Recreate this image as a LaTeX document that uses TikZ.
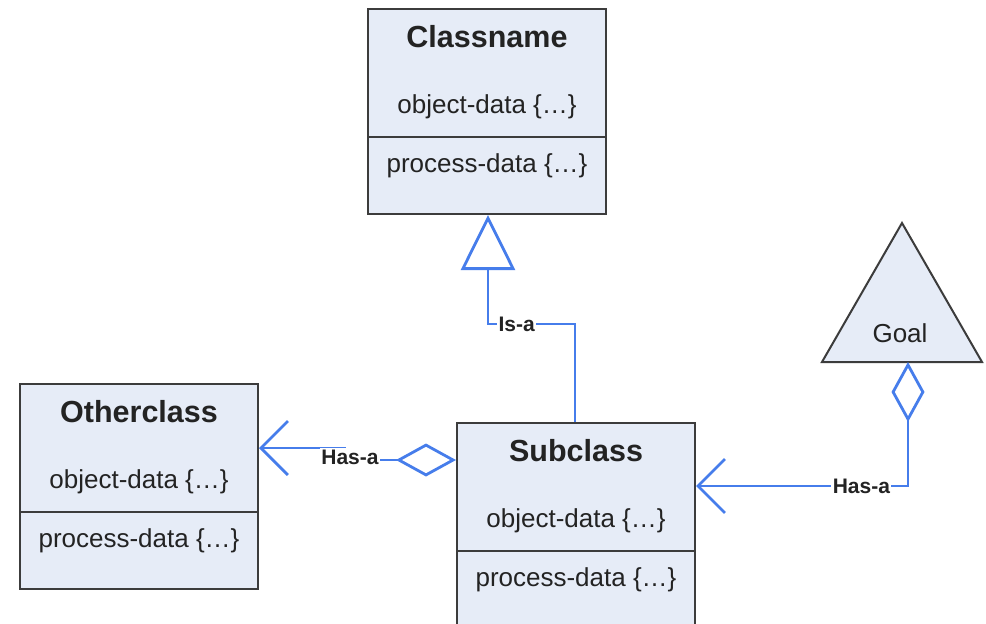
\documentclass[tikz,border=0pt]{standalone}
\usepackage{fontspec}
\setmainfont{Liberation Sans}
\usetikzlibrary{arrows.meta}

\definecolor{boxfill}{RGB}{230,236,247}
\definecolor{boxborder}{RGB}{60,60,60}
\definecolor{linkblue}{RGB}{70,125,235}
\definecolor{inktext}{RGB}{35,35,35}

\tikzset{
  classbox/.style={draw=boxborder, line width=2pt, fill=boxfill, inner sep=0pt,
    minimum width=238pt, minimum height=205pt},
  boxline/.style={draw=boxborder, line width=2pt},
  classtitle/.style={anchor=base, inner sep=0pt, text=inktext,
    font=\fontsize{30.5}{36}\selectfont\bfseries},
  classtext/.style={anchor=base, inner sep=0pt, text=inktext,
    font=\fontsize{26}{30}\selectfont},
  connector/.style={draw=linkblue, line width=2.8pt, line join=miter},
  linklabel/.style={fill=white, inner sep=1.5pt, text=inktext,
    font=\fontsize{21}{25}\selectfont\bfseries},
  hasdiamond/.tip={Diamond[open, length=60pt, width=33pt]},
  hasbarb/.tip={Straight Barb[length=27pt, width=54pt]},
  isatriangle/.tip={Triangle[open, length=55pt, width=54pt]}
}

\begin{document}
\begin{tikzpicture}[x=1pt, y=-1pt]
  \useasboundingbox[fill=white] (0,0) rectangle (986,624);

  % the three class boxes
  \foreach \nm/\cx/\top/\ttl in {classname/487/8/Classname,
      otherclass/139/383/Otherclass, subclass/576/422/Subclass} {
    \node[classbox, anchor=north] (\nm) at (\cx,\top) {};
    \node[classtitle] (\nm-title) at ([yshift=-39pt]\nm.north) {\ttl};
    \node[classtext] (\nm-obj) at ([yshift=-105pt]\nm.north) {object-data \{…\}};
    \draw[boxline] ([yshift=-129pt]\nm.north west) -- ([yshift=-129pt]\nm.north east);
    \node[classtext] (\nm-proc) at ([yshift=-164pt]\nm.north) {process-data \{…\}};
  }

  % goal triangle
  \draw[boxline, fill=boxfill] (902,223) -- (982,362) -- (822,362) -- cycle;
  \node[classtext] (goal) at (900,342) {Goal};
  \coordinate (goal-foot) at (908,362);

  % bends of the links
  \coordinate (goal-bend) at (908,486);
  \coordinate (isa-right) at (575,324);
  \coordinate (isa-left) at (488,324);
  \coordinate (hasa-low) at (345,460);
  \coordinate (hasa-high) at (345,448);

  % is-a
  \draw[connector, -isatriangle] (subclass.north -| isa-right) -- (isa-right)
    -- node[linklabel, pos=0.67] (isa-label) {Is-a} (isa-left)
    -- (classname.south -| isa-left);

  % has-a goal
  \draw[connector, hasdiamond-hasbarb] (goal-foot) -- (goal-bend)
    -- node[linklabel, pos=0.22] (goal-label) {Has-a} (subclass.east |- goal-bend);

  % has-a otherclass
  \draw[connector, hasdiamond-hasbarb] (subclass.west |- hasa-low) -- (hasa-low)
    -- (hasa-high) -- (otherclass.east |- hasa-high);
  \node[linklabel] (other-label) at (350,457) {Has-a};
\end{tikzpicture}
\end{document}
